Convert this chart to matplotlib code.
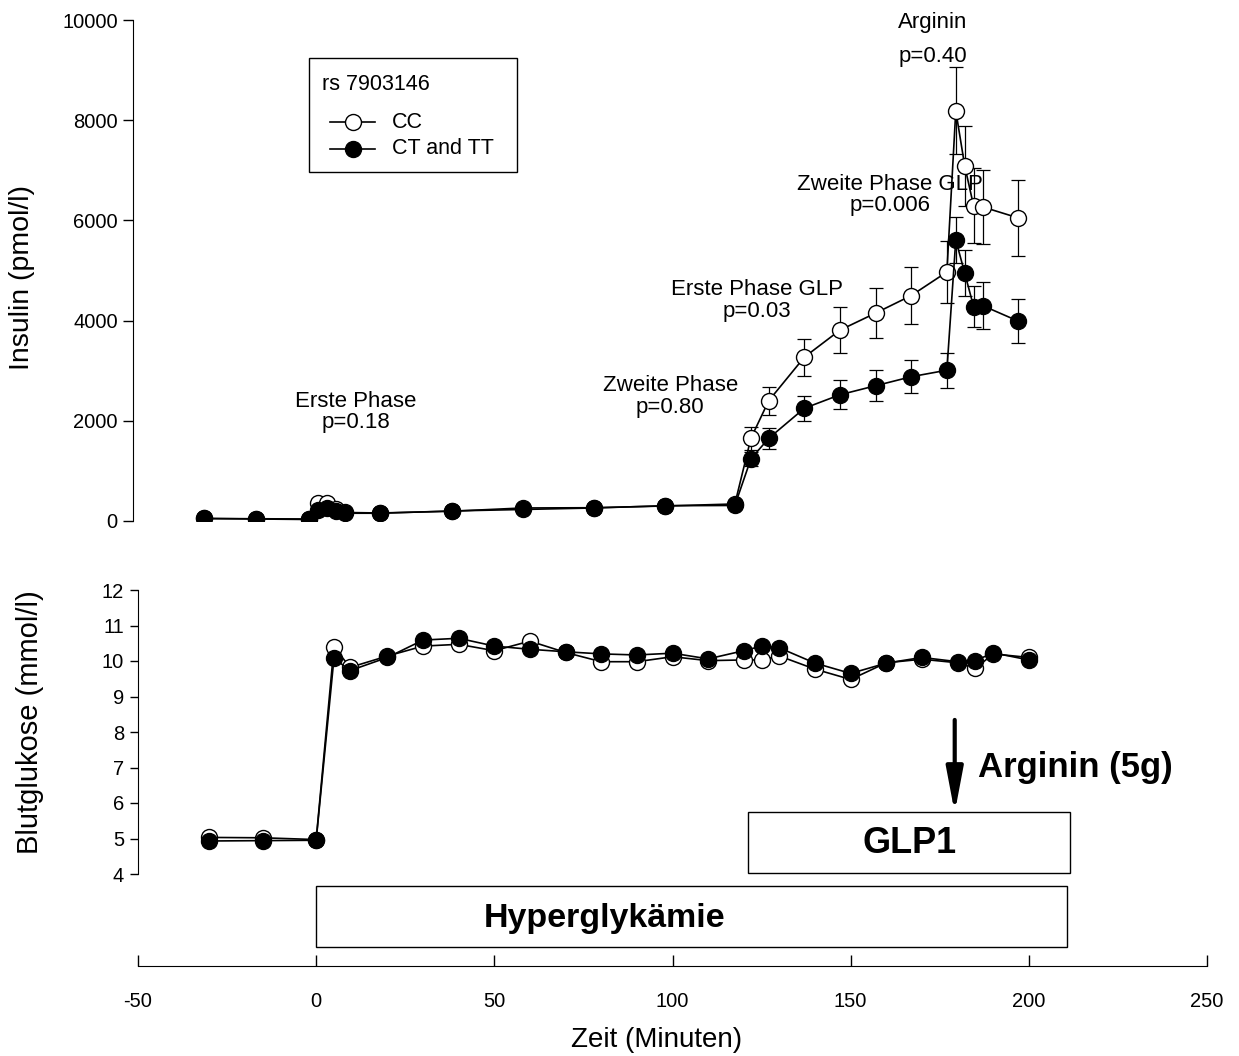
import numpy as np
import matplotlib.pyplot as plt
from matplotlib.lines import Line2D
from matplotlib.patches import Rectangle

plt.rcParams['font.family'] = ['Liberation Sans', 'DejaVu Sans']
plt.rcParams['axes.unicode_minus'] = False

# Insulin (pmol/l), Mittelwert +/- SEM
t_ins = [-31.5, -17, -2, 0.5, 3, 5.5, 8, 18, 38, 58, 78, 98, 117.5,
         122, 127, 137, 147, 157, 167, 177, 179.5, 182, 184.5, 187, 197]
ins_cc = [50, 45, 40, 350, 360, 240, 170, 160, 195, 260, 265, 300, 340,
          1650, 2400, 3270, 3810, 4150, 4500, 4970, 8190, 7090, 6290, 6270, 6050]
ins_cc_se = [0] * 13 + [233, 280, 370, 453, 493, 567, 620, 867, 793, 747, 733, 760]
ins_ct = [50, 40, 30, 220, 250, 190, 155, 155, 200, 230, 260, 305, 310,
          1240, 1650, 2250, 2520, 2700, 2880, 3010, 5610, 4950, 4280, 4300, 3990]
ins_ct_se = [0] * 13 + [133, 207, 253, 293, 313, 333, 353, 460, 467, 407, 467, 433]

# Blutglukose (mmol/l)
t_glu = [-30, -15, 0, 5, 9.5, 20, 30, 40, 50, 60, 70, 80, 90, 100, 110,
         120, 125, 130, 140, 150, 160, 170, 180, 185, 190, 200]
glu_cc = [5.03, 5.02, 4.97, 10.40, 9.82, 10.14, 10.42, 10.47, 10.29, 10.56, 10.24,
          9.98, 9.98, 10.12, 10.01, 10.03, 10.03, 10.14, 9.77, 9.48, 9.95, 10.05,
          9.95, 9.79, 10.20, 10.10]
glu_ct = [4.93, 4.94, 4.95, 10.08, 9.73, 10.10, 10.59, 10.64, 10.42, 10.33, 10.26,
          10.20, 10.17, 10.22, 10.06, 10.29, 10.42, 10.37, 9.94, 9.65, 9.94, 10.10,
          9.98, 10.01, 10.23, 10.03]

# Beschriftungen (Text, x, y)
phasen = [("Erste Phase\np=0.18", 11.2, 1750),
          ("Zweite Phase\np=0.80", 99.4, 2050),
          ("Erste Phase GLP\np=0.03", 123.6, 3980),
          ("Zweite Phase GLP\np=0.006", 161, 6080)]
legende = ["CC", "CT and TT"]

W, H = 1239, 1056
fig = plt.figure(figsize=(W / 100, H / 100), dpi=100)


def fx(px):
    return px / W


def fy(py):
    return 1 - py / H


mk = dict(marker='o', markersize=11.5, markeredgecolor='black', markeredgewidth=1.0,
          color='black', linewidth=1.2)
eb = dict(fmt='none', ecolor='black', elinewidth=0.9, capsize=5, capthick=0.9)

### Insulin
ax1 = fig.add_axes([fx(133), fy(521), fx(1207 - 133), (521 - 20) / H])
ax1.errorbar(t_ins, ins_cc, yerr=ins_cc_se, zorder=2, **eb)
ax1.errorbar(t_ins, ins_ct, yerr=ins_ct_se, zorder=2, **eb)
ax1.plot(t_ins, ins_cc, markerfacecolor='white', zorder=3, **mk)
ax1.plot(t_ins, ins_ct, markerfacecolor='black', zorder=4, **mk)
ax1.set_xlim(-50 - 5 / 3.56, 250)
ax1.set_ylim(0, 10000)
ax1.set_yticks(np.arange(0, 10001, 2000))
ax1.set_xticks([])
for s in ['top', 'right', 'bottom']:
    ax1.spines[s].set_visible(False)
ax1.tick_params(axis='y', direction='out', length=7, width=1, labelsize=14.5, pad=4)

for txt, x, y in phasen:
    ax1.text(x, y, txt, ha='center', va='bottom', fontsize=16, linespacing=1.05)
ax1.text(173, 9960, "Arginin", ha='center', va='center', fontsize=16, clip_on=False)
ax1.text(173, 9280, "p=0.40", ha='center', va='center', fontsize=16, clip_on=False)

# Legende von Hand, damit Abstaende passen
fig.add_artist(Rectangle((fx(309), fy(172)), fx(208), 114 / H, transform=fig.transFigure,
                         fill=False, edgecolor='black', linewidth=1.0))
fig.text(fx(322), fy(85), "rs 7903146", ha='left', va='center', fontsize=15.5)
for i, (lab, fc) in enumerate(zip(legende, ['white', 'black'])):
    yy = fy(122 + 27 * i)
    fig.add_artist(Line2D([fx(330), fx(375)], [yy, yy], transform=fig.transFigure,
                          color='black', linewidth=1.2))
    fig.add_artist(Line2D([fx(352.5)], [yy], transform=fig.transFigure, marker='o',
                          markersize=11.5, markerfacecolor=fc, markeredgecolor='black',
                          linestyle='none'))
    fig.text(fx(392), yy, lab, ha='left', va='center', fontsize=15.5)

### Blutglukose
ax2 = fig.add_axes([fx(138), fy(874), fx(1207 - 138), (874 - 590) / H])
ax2.plot(t_glu, glu_cc, markerfacecolor='white', zorder=3, **mk)
ax2.plot(t_glu, glu_ct, markerfacecolor='black', zorder=4, **mk)
ax2.set_xlim(-50, 250)
ax2.set_ylim(4, 12)
ax2.set_yticks(range(4, 13))
ax2.set_xticks(range(-50, 251, 50))
for s in ['top', 'right']:
    ax2.spines[s].set_visible(False)
ax2.spines['bottom'].set_position(('outward', 92 * 0.72))
ax2.tick_params(axis='y', direction='out', length=6, width=1, labelsize=14.5, pad=4)
ax2.tick_params(axis='x', direction='in', length=8, width=1, labelsize=14.5, pad=19)

# Boxen und Pfeil
ax2.add_patch(Rectangle((121.3, 4.03), 211.5 - 121.3, 5.75 - 4.03, fill=False,
                        edgecolor='black', linewidth=1.0, clip_on=False))
ax2.text(166.6, 4.85, "GLP1", ha='center', va='center', fontsize=26, fontweight='bold')
ax2.add_patch(Rectangle((0, 1.944), 210.7, 1.718, fill=False,
                        edgecolor='black', linewidth=1.0, clip_on=False))
ax2.text(80.9, 2.75, "Hyperglykämie", ha='center', va='center', fontsize=24.5,
         fontweight='bold', clip_on=False)
ax2.annotate("", xy=(179.2, 5.72), xytext=(179.2, 8.34),
             arrowprops=dict(arrowstyle='-|>,head_length=0.9,head_width=0.17',
                             lw=3, color='black', mutation_scale=30, shrinkA=0, shrinkB=0))
ax2.text(185.7, 7.0, "Arginin (5g)", ha='left', va='center', fontsize=25, fontweight='bold')

fig.text(fx(657), fy(1040), "Zeit (Minuten)", ha='center', va='center', fontsize=20)
fig.text(fx(22), fy(277), "Insulin (pmol/l)", rotation=90, ha='center', va='center',
         fontsize=20.5)
fig.text(fx(30), fy(722), "Blutglukose (mmol/l)", rotation=90, ha='center',
         va='center', fontsize=21)

fig.savefig("out.png", dpi=100, facecolor='white')
